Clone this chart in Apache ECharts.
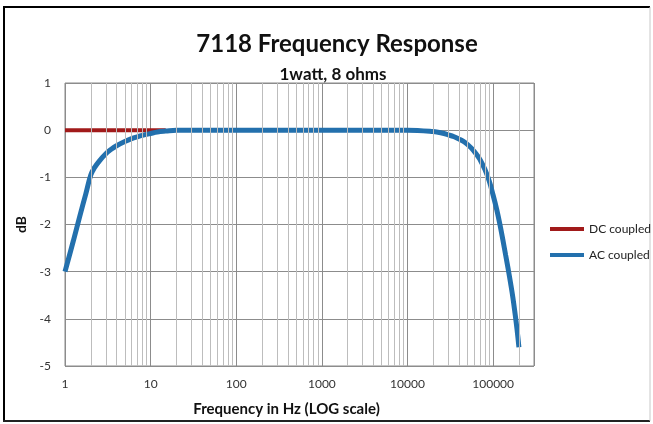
<!DOCTYPE html>
<html><head><meta charset="utf-8">
<script src="https://cdn.jsdelivr.net/npm/echarts@6/dist/echarts.min.js"></script>
<style>html,body{margin:0;padding:0;background:#fff}#c{width:653px;height:424px}</style>
</head><body><div id="c"></div>
<script>
const titleText = '7118 Frequency Response';
const subtitleText = '1watt, 8 ohms';
const seriesNames = ['DC coupled', 'AC coupled'];
const dcFreq = [1, 15];
const dcDb = [0, 0];
const acFreq = [1, 1.25, 1.5, 1.75, 2, 2.2, 2.5, 3, 3.5, 4, 5, 6, 7, 8, 10, 12, 15, 20, 50, 100, 1000, 10000, 20000, 25000, 30000, 35000, 40000, 45000, 50000, 55000, 60000, 65000, 70000, 80000, 90000, 100000, 110000, 120000, 130000, 140000, 150000, 160000, 170000, 180000, 190000, 200000];
const acDb = [-3, -2.35, -1.8, -1.35, -0.95, -0.8, -0.66, -0.5, -0.4, -0.33, -0.24, -0.18, -0.14, -0.11, -0.07, -0.04, -0.02, 0, 0, 0, 0, 0, -0.03, -0.06, -0.1, -0.14, -0.19, -0.24, -0.3, -0.37, -0.45, -0.53, -0.62, -0.83, -1.08, -1.38, -1.68, -2.0, -2.33, -2.65, -2.95, -3.25, -3.55, -3.88, -4.22, -4.6];
const yTicks = [-5, -4, -3, -2, -1, 0, 1];
const minorGrid = [2,3,4,5,6,7,8,9,20,30,40,50,60,70,80,90,200,300,400,500,600,700,800,900,2000,3000,4000,5000,6000,7000,8000,9000,20000,30000,40000,50000,60000,70000,80000,90000,200000];

const chart = echarts.init(document.getElementById('c'));
const F = 'Lato, "Open Sans", sans-serif';
chart.setOption({
  animation: false,
  backgroundColor: '#fff',
  title: [
    {text: titleText, left: 332, textAlign: 'center', top: 27, textStyle: {fontFamily: F, fontSize: 24, fontWeight: 'bold', color: '#111'}},
    {text: subtitleText, left: 328, textAlign: 'center', top: 61, textStyle: {fontFamily: F, fontSize: 17, fontWeight: 'bold', color: '#111'}}
  ],
  legend: {
    data: seriesNames, orient: 'vertical', left: 545, top: 218, itemWidth: 34, itemHeight: 4, itemGap: 14,
    icon: 'rect', textStyle: {fontFamily: F, fontSize: 12, color: '#222'}
  },
  grid: {left: 65, top: 83, right: 119, bottom: 58, show: true, borderColor: '#8a8a8a', borderWidth: 1},
  xAxis: {
    type: 'log', logBase: 10, min: 1, max: 300000,
    name: 'Frequency in Hz (LOG scale)', nameLocation: 'middle', nameGap: 36,
    nameTextStyle: {fontFamily: F, fontSize: 15, fontWeight: 'bold', color: '#111', padding: [0, 26, 0, 0]},
    axisLine: {show: false}, axisTick: {show: false},
    axisLabel: {fontFamily: F, fontSize: 12, color: '#333', margin: 12, showMaxLabel: false,
      formatter: v => (Math.abs(Math.log10(v) - Math.round(Math.log10(v))) < 1e-6 ? String(Math.round(v)) : '')},
    splitLine: {show: true, lineStyle: {color: '#8c8c8c', width: 1}}
  },
  yAxis: {
    type: 'value', min: yTicks[0], max: yTicks[yTicks.length - 1], interval: 1,
    name: 'dB', nameLocation: 'middle', nameGap: 32, nameRotate: 90,
    nameTextStyle: {fontFamily: F, fontSize: 14, fontWeight: 'bold', color: '#111'},
    axisLine: {show: false}, axisTick: {show: false},
    axisLabel: {fontFamily: F, fontSize: 12, color: '#333', margin: 14},
    splitLine: {show: true, lineStyle: {color: '#8c8c8c', width: 1}}
  },
  series: [
    {
      name: 'minor', type: 'line', data: [], z: 1, silent: true,
      markLine: {silent: true, symbol: 'none', label: {show: false}, animation: false,
        lineStyle: {color: '#bdbdbd', width: 1, type: 'solid'},
        data: minorGrid.map(v => ({xAxis: v}))}
    },
    {name: seriesNames[0], type: 'line', z: 3, showSymbol: false, symbol: 'none',
      data: dcFreq.map((f, i) => [f, dcDb[i]]), lineStyle: {color: '#a11a1a', width: 4}, itemStyle: {color: '#a11a1a'}},
    {name: seriesNames[1], type: 'line', z: 4, showSymbol: false, symbol: 'none', smooth: 0.4,
      data: acFreq.map((f, i) => [f, acDb[i]]), lineStyle: {color: '#2370ad', width: 5}, itemStyle: {color: '#2370ad'}}
  ],
  graphic: [
    {type: 'line', shape: {x1: 4, y1: 7, x2: 4, y2: 421}, style: {stroke: '#000', lineWidth: 2}},
    {type: 'line', shape: {x1: 3, y1: 7, x2: 650, y2: 7}, style: {stroke: '#000', lineWidth: 2}},
    {type: 'line', shape: {x1: 3, y1: 421, x2: 650, y2: 421}, style: {stroke: '#222', lineWidth: 2}},
    {type: 'line', shape: {x1: 650, y1: 7, x2: 650, y2: 421}, style: {stroke: '#c8c8c8', lineWidth: 1}}
  ]
});
</script></body></html>
